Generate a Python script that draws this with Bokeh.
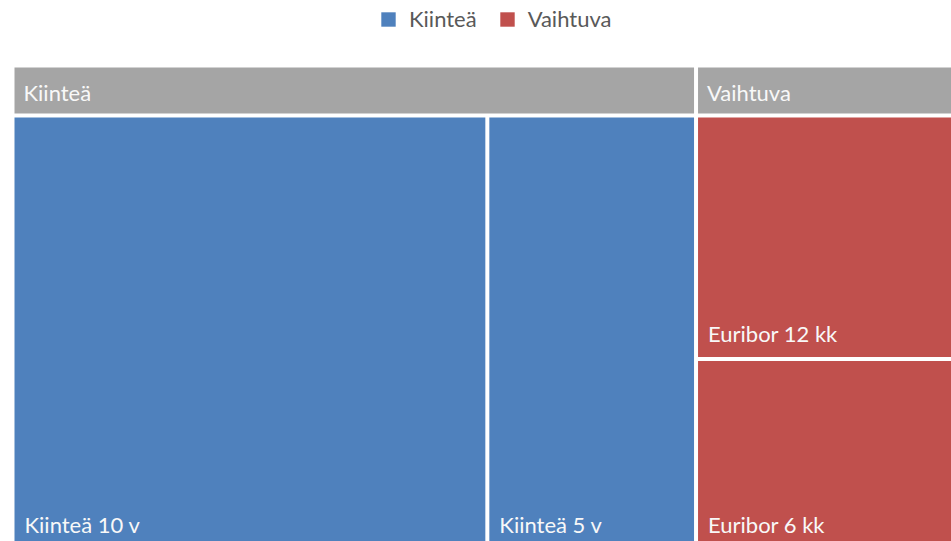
import numpy as np
from bokeh.plotting import figure
from bokeh.models import Range1d, ColumnDataSource, Legend, LegendItem
from bokeh.core.properties import value
from bokeh.embed import file_html
from bokeh.resources import INLINE

# ---- data ----
groups = ["Kiinteä", "Vaihtuva"]
group_colors = ["#4F81BD", "#C0504D"]
items = ["Kiinteä 10 v", "Kiinteä 5 v", "Euribor 12 kk", "Euribor 6 kk"]
item_group = ["Kiinteä", "Kiinteä", "Vaihtuva", "Vaihtuva"]
item_values = [50.6, 22.0, 15.4, 12.0]

# ---- layout (pixel units, y grows downward) ----
W, H = 951, 541
BOX_L, BOX_R, BOX_T, BOX_B = 14, 954, 67, 547
HEADER_H = 46
GAP = 4
PAD_X = 10
HEAD_BASE = 21
LABEL_BASE = 23
FONT = "Lato"
FSIZE = "22px"


def split(x0, x1, y0, y1, vals):
    vals = np.asarray(vals, float)
    fr = vals / vals.sum()
    rects = []
    if (x1 - x0) >= (y1 - y0):
        avail = (x1 - x0) - GAP * (len(vals) - 1)
        x = x0
        for f in fr:
            w = avail * f
            rects.append((x, x + w, y0, y1))
            x += w + GAP
    else:
        avail = (y1 - y0) - GAP * (len(vals) - 1)
        y = y0
        for f in fr:
            h = avail * f
            rects.append((x0, x1, y, y + h))
            y += h + GAP
    return rects


group_sums = [sum(v for v, g in zip(item_values, item_group) if g == grp) for grp in groups]
group_rects = split(BOX_L, BOX_R, BOX_T, BOX_B, group_sums)

p = figure(width=W, height=H, output_backend="svg", toolbar_location=None,
           x_range=Range1d(0, W), y_range=Range1d(H, 0),
           x_axis_type=None, y_axis_type=None, min_border=0,
           background_fill_color="white", border_fill_color="white")
p.outline_line_color = None
p.grid.visible = False

head = dict(left=[], right=[], top=[], bottom=[], name=[], tx=[], ty=[])
renderers = []
lab = dict(x=[], y=[], text=[])
for grp, col, (gx0, gx1, gy0, gy1) in zip(groups, group_colors, group_rects):
    head["left"].append(gx0); head["right"].append(gx1)
    head["top"].append(gy0); head["bottom"].append(gy0 + HEADER_H)
    head["name"].append(grp)
    head["tx"].append(gx0 + PAD_X - 1); head["ty"].append(gy0 + HEADER_H - HEAD_BASE)
    names = [n for n, g in zip(items, item_group) if g == grp]
    vals = [v for v, g in zip(item_values, item_group) if g == grp]
    rects = split(gx0, gx1, gy0 + HEADER_H + GAP, gy1, vals)
    src = ColumnDataSource(dict(left=[r[0] for r in rects], right=[r[1] for r in rects],
                                top=[r[2] for r in rects], bottom=[r[3] for r in rects], name=names))
    r = p.quad(left="left", right="right", top="top", bottom="bottom", source=src,
               fill_color=col, line_color=None)
    renderers.append(r)
    for n, rc in zip(names, rects):
        lab["x"].append(rc[0] + PAD_X); lab["y"].append(rc[3] - LABEL_BASE); lab["text"].append(n)

hsrc = ColumnDataSource(head)
p.quad(left="left", right="right", top="top", bottom="bottom", source=hsrc,
       fill_color="#A5A5A5", line_color=None)
p.text(x="tx", y="ty", text="name", source=hsrc, text_color="#F8F8F8",
       text_font=value(FONT), text_font_size=FSIZE, text_baseline="alphabetic")
p.text(x="x", y="y", text="text", source=ColumnDataSource(lab), text_color="#F8F8F8",
       text_font=value(FONT), text_font_size=FSIZE, text_baseline="alphabetic")

legend = Legend(items=[LegendItem(label=g, renderers=[r]) for g, r in zip(groups, renderers)],
                orientation="horizontal", location=(379, H - 32),
                padding=0, margin=0, spacing=21, label_standoff=12,
                glyph_width=18, glyph_height=18,
                border_line_color=None, background_fill_alpha=0,
                label_text_font=FONT, label_text_font_size=FSIZE, label_text_color="#595959")
p.add_layout(legend)

open("out.html", "w").write(file_html(p, INLINE))
